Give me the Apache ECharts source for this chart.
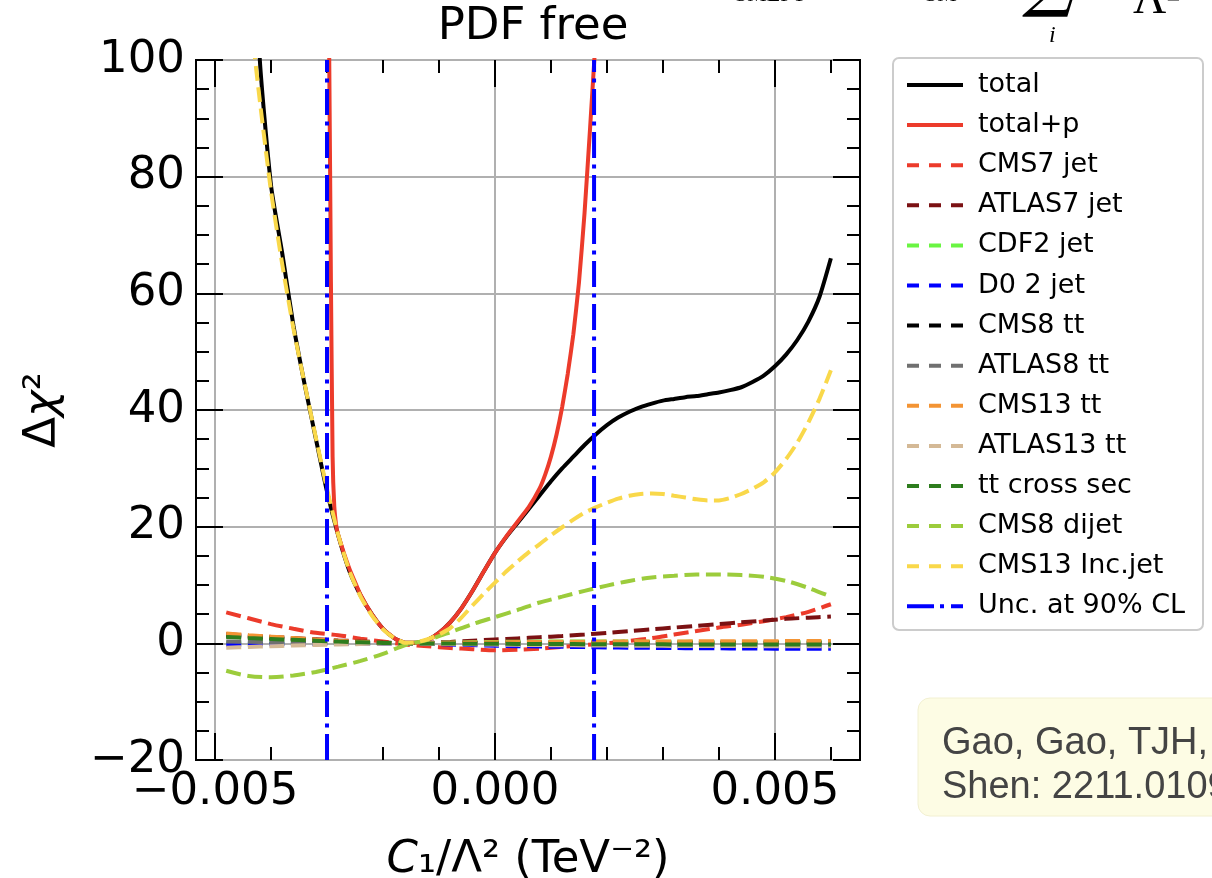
<!DOCTYPE html>
<html><head><meta charset="utf-8">
<script src="https://cdn.jsdelivr.net/npm/echarts@6/dist/echarts.min.js"></script>
<style>html,body{margin:0;padding:0;background:#fff}#c{width:1212px;height:878px}</style>
</head><body><div id="c"></div>
<script>
// ---------- data ----------
const xMin = -0.00534, xMax = 0.00652;
const xMajorTicks = [-0.005, 0, 0.005];
const xMinorTicks = [-0.004, -0.003, -0.002, -0.001, 0.001, 0.002, 0.003, 0.004, 0.006];
const yTicks = [-20, 0, 20, 40, 60, 80, 100];

// coarse grid for the small dashed curves
const xGrid = [-0.0048,-0.0044,-0.0040,-0.0036,-0.0032,-0.0028,-0.0024,-0.0020,-0.0016,-0.0012,-0.0008,-0.0004,0,
  0.0004,0.0008,0.0012,0.0016,0.0020,0.0024,0.0028,0.0032,0.0036,0.0040,0.0044,0.0048,0.0052,0.0056,0.0060];
const cms7jet   = [5.3,4.3,3.3,2.5,1.8,1.4,0.8,0.3,-0.2,-0.5,-0.8,-1.0,-1.2,-1.1,-0.9,-0.6,-0.3,0.0,0.4,0.9,1.5,2.1,2.7,3.2,3.8,4.5,5.4,6.7];
const atlas7jet = [1.6,1.3,1.1,0.9,0.7,0.5,0.35,0.2,0.0,0.1,0.25,0.45,0.65,0.85,1.05,1.25,1.5,1.8,2.1,2.4,2.7,3.0,3.3,3.6,3.9,4.2,4.4,4.6];
const cdf2jet   = [0.1,0.08,0.06,0.05,0.04,0.03,0.02,0.01,0,0.05,0.12,0.18,0.23,0.27,0.3,0.32,0.32,0.31,0.3,0.28,0.26,0.25,0.24,0.23,0.22,0.22,0.22,0.22];
const d0jet     = [-0.25,-0.2,-0.16,-0.12,-0.09,-0.06,-0.04,-0.02,0,-0.1,-0.2,-0.3,-0.4,-0.48,-0.55,-0.6,-0.65,-0.7,-0.74,-0.78,-0.81,-0.84,-0.86,-0.88,-0.9,-0.92,-0.93,-0.95];
const cms8tt    = [1.3,1.1,0.9,0.7,0.5,0.35,0.2,0.08,0,0.02,0.04,0.06,0.07,0.08,0.08,0.08,0.08,0.08,0.08,0.08,0.08,0.08,0.08,0.08,0.08,0.08,0.08,0.08];
const atlas8tt  = [0.3,0.25,0.2,0.16,0.12,0.08,0.05,0.02,0,-0.02,-0.04,-0.06,-0.08,-0.1,-0.12,-0.13,-0.14,-0.15,-0.16,-0.17,-0.18,-0.18,-0.19,-0.19,-0.2,-0.2,-0.2,-0.2];
const cms13tt   = [1.7,1.4,1.15,0.9,0.65,0.45,0.28,0.12,0,0.04,0.09,0.14,0.18,0.21,0.24,0.26,0.28,0.3,0.31,0.32,0.33,0.34,0.35,0.36,0.37,0.38,0.39,0.4];
const atlas13tt = [-0.75,-0.62,-0.5,-0.38,-0.28,-0.19,-0.12,-0.05,0,-0.06,-0.12,-0.17,-0.22,-0.26,-0.3,-0.33,-0.36,-0.38,-0.4,-0.42,-0.44,-0.45,-0.46,-0.47,-0.48,-0.49,-0.5,-0.5];
const ttCross   = [1.1,0.9,0.75,0.6,0.45,0.3,0.18,0.07,0,-0.02,-0.04,-0.06,-0.08,-0.1,-0.12,-0.13,-0.14,-0.15,-0.16,-0.17,-0.18,-0.18,-0.19,-0.19,-0.2,-0.2,-0.2,-0.2];
const cms8dijet = [-4.7,-5.6,-5.8,-5.5,-4.9,-4.0,-3.0,-1.8,-0.3,0.6,1.9,3.3,4.5,5.7,7.0,8.0,9.0,9.9,10.7,11.3,11.6,11.8,11.8,11.7,11.4,10.7,9.5,8.0];

// fine grid for the large curves
const xFine = [-0.0044,-0.0042,-0.0040,-0.0038,-0.0036,-0.0034,-0.0032,-0.0030,-0.0028,-0.0026,-0.0024,-0.0022,-0.0020,-0.0018,-0.0016,
  -0.0014,-0.0012,-0.0010,-0.0008,-0.0006,-0.0004,-0.0002,0,0.0002,0.0004,0.0006,0.0008,0.0010,0.0012,0.0014,0.0016,0.0018,0.0020,
  0.0022,0.0024,0.0026,0.0028,0.0030,0.0032,0.0034,0.0036,0.0038,0.0040,0.0042,0.0044,0.0046,0.0048,0.0050,0.0052,0.0054,0.0056,0.0058,0.0060];
const total = [140,100,78.5,66.9,54.5,44.4,35.1,26,18.5,12.4,8.2,5.0,2.5,0.9,0.1,
  0.1,0.6,1.8,3.6,6.0,9.0,12.3,15.5,18.2,20.6,23.0,25.4,27.8,30.0,32.0,34.0,35.8,37.4,
  38.7,39.7,40.5,41.1,41.6,41.9,42.2,42.4,42.7,43.0,43.4,43.9,44.8,45.9,47.5,49.5,52.0,55.2,59.5,66.0];
const cms13inc = [110,93,77.5,65,54,44.5,35.3,26.5,18.6,12.4,8.0,4.8,2.4,0.9,0.1,
  0.2,0.7,1.5,2.6,4.4,6.5,8.5,10.4,12.3,14.0,15.6,17.0,18.5,19.9,21.2,22.4,23.3,24.1,
  24.8,25.3,25.6,25.7,25.6,25.3,25.0,24.7,24.5,24.5,24.9,25.6,26.5,27.6,29.3,31.6,34.4,37.9,42.0,46.8];

const xTotP = [-0.00300,-0.00296,-0.00293,-0.00290,-0.00287,-0.00283,-0.0028,-0.0027,-0.0026,-0.0025,-0.0024,-0.0022,-0.0020,-0.0018,-0.0016,
  -0.0014,-0.0012,-0.0010,-0.0008,-0.0006,-0.0004,-0.0002,0,0.0002,0.0004,0.0006,0.0008,0.0009,0.0010,0.0011,0.0012,0.0013,0.0014,
  0.0015,0.0016,0.0017,0.0018,0.0019];
const totalP = [130,100,62,32,23.5,19.8,18.6,15.5,12.8,10.5,8.3,5.0,2.5,0.9,0.1,
  0.1,0.6,1.8,3.6,6.0,9.0,12.3,15.5,18.3,20.8,23.3,26.6,29.0,32.0,35.8,40.5,46.2,53.0,
  61.8,73.8,88.5,104,121];

const unc90 = [-0.0030, 0.00177];

// ---------- chart ----------
const FONT = 'DejaVu Sans';
const RED = '#ec3b2b';
const pair = (xs, ys) => xs.map((x, i) => [x, ys[i]]);
const DASH = [15, 6.5];
const ICON_SOLID = 'path://M0,0H56V4H0Z';
const ICON_DASH = 'path://M0,0H12V4H0Z M22,0H34V4H22Z M44,0H56V4H44Z';
const ICON_DASHDOT = 'path://M0,0H27V4H0Z M33,0H37V4H33Z M44,0H56V4H44Z';

function dashed(name, ys, color) {
  return { name, type: 'line', data: pair(xGrid, ys), showSymbol: false, symbol: 'none',
    smooth: 0.3, clip: true,
    lineStyle: { color, width: 4, type: DASH }, itemStyle: { color } };
}

const fmtX = v => (v < 0 ? '\u2212' : '') + Math.abs(v).toFixed(3);
const fmtY = v => (v < 0 ? '\u2212' : '') + Math.abs(v);

const chart = echarts.init(document.getElementById('c'), null, { renderer: 'canvas' });
const xBase = { type: 'value', min: xMin, max: xMax, axisLine: { show: false, onZero: false }, splitLine: { show: false } };
const tickLS = { color: '#000', width: 2 };
const legendNames = ['total','total+p','CMS7 jet','ATLAS7 jet','CDF2 jet','D0 2 jet','CMS8 tt','ATLAS8 tt','CMS13 tt','ATLAS13 tt','tt cross sec','CMS8 dijet','CMS13 Inc.jet','Unc. at 90% CL'];

chart.setOption({
  animation: false,
  backgroundColor: '#fff',
  title: { text: 'PDF free', left: 528, top: 0, textAlign: 'center',
    textStyle: { fontSize: 45, fontWeight: 'normal', fontFamily: FONT, color: '#000' } },
  grid: { left: 196, top: 60, width: 664, height: 700, show: true, borderColor: '#000', borderWidth: 2,
    backgroundColor: 'transparent', containLabel: false, outerBoundsMode: 'none' },
  legend: {
    left: 902, top: 65, orient: 'vertical', itemWidth: 56, itemHeight: 4, itemGap: 10.1,
    selectedMode: false, z: 10,
    textStyle: { fontSize: 27, fontFamily: FONT, color: '#000', lineHeight: 30, padding: [0, 0, 0, 10] },
    data: legendNames.map((n, i) => ({ name: n, icon: i < 2 ? ICON_SOLID : (i === 13 ? ICON_DASHDOT : ICON_DASH) }))
  },
  xAxis: [
    Object.assign({}, xBase, { position: 'bottom',
      name: '{it|C}\u2081/\u039b\u00b2 (TeV\u207b\u00b2)', nameLocation: 'middle', nameGap: 78,
      nameTextStyle: { fontSize: 45, fontFamily: FONT, color: '#000', rich: { it: { fontStyle: 'italic', fontSize: 45, fontFamily: FONT } } },
      axisTick: { show: true, inside: true, length: 27, lineStyle: tickLS, customValues: xMajorTicks },
      axisLabel: { show: true, customValues: xMajorTicks, formatter: fmtX, fontSize: 45, fontFamily: FONT, color: '#000', margin: 10 },
      splitLine: { show: true, lineStyle: { color: '#b0b0b0', width: 2 } } }),
    Object.assign({}, xBase, { position: 'bottom',
      axisTick: { show: true, inside: true, length: 13, lineStyle: tickLS, customValues: xMinorTicks },
      axisLabel: { show: false } }),
    Object.assign({}, xBase, { position: 'top',
      axisTick: { show: true, inside: true, length: 27, lineStyle: tickLS, customValues: xMajorTicks },
      axisLabel: { show: false } }),
    Object.assign({}, xBase, { position: 'top',
      axisTick: { show: true, inside: true, length: 13, lineStyle: tickLS, customValues: xMinorTicks },
      axisLabel: { show: false } })
  ],
  yAxis: [
    { type: 'value', position: 'left', min: yTicks[0], max: yTicks[yTicks.length - 1], interval: 20,
      name: '\u0394{it|\u03c7}\u00b2', nameLocation: 'middle', nameGap: 130,
      nameTextStyle: { fontSize: 45, fontFamily: FONT, color: '#000', rich: { it: { fontStyle: 'italic', fontSize: 45, fontFamily: FONT } } },
      axisLine: { show: false, onZero: false },
      axisTick: { show: true, inside: true, length: 27, lineStyle: tickLS },
      minorTick: { show: true, splitNumber: 4, length: 13, lineStyle: tickLS },
      axisLabel: { formatter: fmtY, fontSize: 45, fontFamily: FONT, color: '#000', margin: 11 },
      splitLine: { show: true, lineStyle: { color: '#b0b0b0', width: 2 } } },
    { type: 'value', position: 'right', min: yTicks[0], max: yTicks[yTicks.length - 1], interval: 20,
      axisLine: { show: false, onZero: false },
      axisTick: { show: true, inside: true, length: 27, lineStyle: tickLS },
      minorTick: { show: true, splitNumber: 4, length: 13, lineStyle: tickLS },
      axisLabel: { show: false }, splitLine: { show: false } }
  ],
  series: [
    { name: 'total', type: 'line', data: pair(xFine, total), showSymbol: false, symbol: 'none', smooth: 0.2,
      lineStyle: { color: '#000', width: 4 }, itemStyle: { color: '#000' } },
    { name: 'total+p', type: 'line', data: pair(xTotP, totalP), showSymbol: false, symbol: 'none', smooth: 0.15,
      lineStyle: { color: RED, width: 4 }, itemStyle: { color: RED } },
    dashed('CMS7 jet', cms7jet, RED),
    dashed('ATLAS7 jet', atlas7jet, '#7b1113'),
    dashed('CDF2 jet', cdf2jet, '#6af542'),
    dashed('D0 2 jet', d0jet, '#0000ff'),
    dashed('CMS8 tt', cms8tt, '#000000'),
    dashed('ATLAS8 tt', atlas8tt, '#707070'),
    dashed('CMS13 tt', cms13tt, '#f39434'),
    dashed('ATLAS13 tt', atlas13tt, '#d4b996'),
    dashed('tt cross sec', ttCross, '#2e7d1e'),
    dashed('CMS8 dijet', cms8dijet, '#9ccc3c'),
    { name: 'CMS13 Inc.jet', type: 'line', data: pair(xFine, cms13inc), showSymbol: false, symbol: 'none', smooth: 0.2,
      lineStyle: { color: '#f9d84a', width: 4, type: DASH }, itemStyle: { color: '#f9d84a' } }
  ].concat(unc90.map(v => ({
      name: 'Unc. at 90% CL', type: 'line', data: [[v, yTicks[0]], [v, yTicks[yTicks.length - 1]]],
      showSymbol: false, symbol: 'none',
      lineStyle: { color: '#0000ff', width: 4, type: [26, 6.5, 4, 6.5] }, itemStyle: { color: '#0000ff' } }))),
  graphic: [
    { type: 'rect', z: 1, shape: { x: 893, y: 58, width: 310, height: 572, r: 6 },
      style: { fill: '#fff', stroke: '#cccccc', lineWidth: 2 } },
    { type: 'rect', z: 1, shape: { x: 918, y: 698, width: 330, height: 118, r: 12 },
      style: { fill: '#fdfce4', stroke: '#f2f0d2', lineWidth: 1 } },
    { type: 'text', z: 2, x: 942, y: 722,
      style: { text: 'Gao, Gao, TJH,\nShen: 2211.01094', font: '38px "Liberation Sans"', fill: '#444', lineHeight: 44, verticalAlign: 'top' } },
    { type: 'text', z: 2, x: 735, y: -16, style: { text: 'SMEFT', font: '22px "Liberation Serif"', fill: '#000' } },
    { type: 'text', z: 2, x: 925, y: -16, style: { text: 'SM', font: '22px "Liberation Serif"', fill: '#000' } },
    { type: 'text', z: 2, x: 1022, y: -52, style: { text: '\u2211', font: '72px "DejaVu Serif"', fill: '#000' } },
    { type: 'text', z: 2, x: 1049, y: 24, style: { text: 'i', font: 'italic 24px "Liberation Serif"', fill: '#000' } },
    { type: 'text', z: 2, x: 1133, y: -22, style: { text: '\u039b\u00b2', font: '46px "Liberation Serif"', fill: '#000' } }
  ]
});
</script>
</body></html>
